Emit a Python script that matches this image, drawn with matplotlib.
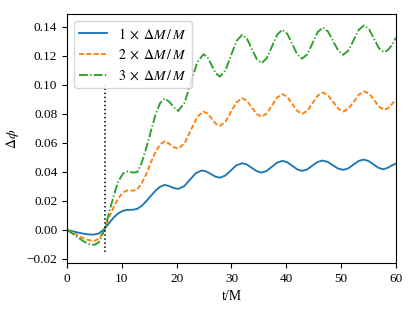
"""
phase difference vs time for three mass perturbations
"""

import matplotlib

matplotlib.use("Agg")
import matplotlib.pyplot as plt

t_1 = [0, 1, 2, 3, 4, 5, 5.8, 6.5, 7, 7.7, 8.5, 9.3, 10.2, 11.0, 12.0, 12.8, 13.6, 14.4,
       15.3, 16.2, 17.0, 17.8, 18.6, 19.5, 20.3, 21.4, 22.45, 23.5, 24.6, 25.4, 26.25,
       27.1, 27.9, 28.9, 29.9, 30.9, 31.95, 32.85, 33.7, 34.6, 35.5, 36.45, 37.4, 38.35,
       39.3, 40.2, 41.1, 42.0, 42.9, 43.8, 44.75, 45.7, 46.6, 47.55, 48.5, 49.45, 50.4,
       51.3, 52.25, 53.2, 54.1, 55.0, 55.9, 56.8, 57.7, 58.5, 59.3, 60]
dphi_1 = [0.0, -0.0009, -0.0018, -0.0026, -0.0031, -0.0032, -0.0024, -0.0005, 0.0015,
          0.0048, 0.0085, 0.0113, 0.0132, 0.0138, 0.0139, 0.0145, 0.0165, 0.0195, 0.0235,
          0.0272, 0.0298, 0.031, 0.0303, 0.0288, 0.0283, 0.0302, 0.0347, 0.0391, 0.041,
          0.0403, 0.0385, 0.0367, 0.036, 0.0375, 0.041, 0.0445, 0.046, 0.045, 0.0428,
          0.0405, 0.0395, 0.0407, 0.0436, 0.0464, 0.0476, 0.0466, 0.0442, 0.0417, 0.0407,
          0.0417, 0.0443, 0.0468, 0.0478, 0.0469, 0.0446, 0.0423, 0.0414, 0.0424, 0.045,
          0.0475, 0.0485, 0.0475, 0.0452, 0.0428, 0.0418, 0.0428, 0.0445, 0.0457]

t_2 = [0, 1, 2, 3, 4, 5, 5.8, 6.5, 7, 7.7, 8.5, 9.3, 10.2, 11.0, 12.0, 12.8, 13.6, 14.4,
       15.3, 16.2, 17.0, 17.8, 18.6, 19.5, 20.3, 21.45, 22.6, 23.75, 24.9, 25.65, 26.4,
       27.15, 27.9, 28.9, 29.9, 30.95, 31.95, 32.85, 33.7, 34.6, 35.5, 36.45, 37.4, 38.35,
       39.3, 40.2, 41.1, 42.0, 42.9, 43.85, 44.8, 45.75, 46.7, 47.6, 48.55, 49.5, 50.4,
       51.35, 52.35, 53.3, 54.3, 55.2, 56.1, 57.0, 57.9, 58.6, 59.3, 60]
dphi_2 = [0.0, -0.0018, -0.0038, -0.0058, -0.0071, -0.0076, -0.006, -0.002, 0.002, 0.009,
          0.0155, 0.0215, 0.0258, 0.0272, 0.0271, 0.0278, 0.032, 0.038, 0.0465, 0.054,
          0.059, 0.061, 0.0595, 0.057, 0.056, 0.0597, 0.0688, 0.0779, 0.0816, 0.0802,
          0.0767, 0.0731, 0.0717, 0.0745, 0.0813, 0.088, 0.0908, 0.0889, 0.0844, 0.0799,
          0.078, 0.0803, 0.0858, 0.0913, 0.0936, 0.0916, 0.0868, 0.082, 0.08, 0.0821,
          0.0874, 0.0926, 0.0947, 0.0928, 0.0882, 0.0835, 0.0816, 0.0836, 0.0885, 0.0934,
          0.0954, 0.0936, 0.0891, 0.0846, 0.0828, 0.084, 0.0868, 0.0898]

t_3 = [0, 1, 2, 3, 4, 5, 5.8, 6.5, 7, 7.7, 8.5, 9.3, 10.2, 11.0, 12.0, 12.8, 13.6, 14.4,
       15.3, 16.2, 17.0, 17.8, 18.6, 19.5, 20.3, 21.45, 22.6, 23.75, 24.9, 25.65, 26.4,
       27.15, 27.9, 28.9, 29.9, 30.95, 31.95, 32.85, 33.7, 34.6, 35.5, 36.45, 37.4, 38.35,
       39.3, 40.2, 41.1, 42.0, 42.9, 43.85, 44.8, 45.75, 46.7, 47.6, 48.55, 49.5, 50.4,
       51.35, 52.3, 53.25, 54.2, 55.1, 56.0, 56.9, 57.8, 58.5, 59.2, 60]
dphi_3 = [0.0, -0.0025, -0.0052, -0.0078, -0.0097, -0.0103, -0.0085, -0.003, 0.002,
          0.0125, 0.023, 0.033, 0.0388, 0.0403, 0.0395, 0.0398, 0.046, 0.0555, 0.068,
          0.08, 0.0875, 0.0905, 0.0885, 0.0845, 0.082, 0.0877, 0.1016, 0.1154, 0.1211,
          0.1188, 0.1134, 0.1079, 0.1057, 0.1099, 0.1201, 0.1303, 0.1345, 0.1316, 0.1248,
          0.1178, 0.115, 0.1184, 0.1265, 0.1346, 0.138, 0.1351, 0.128, 0.1209, 0.118,
          0.1211, 0.1288, 0.1364, 0.1395, 0.1368, 0.1301, 0.1234, 0.1207, 0.1237, 0.1309,
          0.138, 0.141, 0.1383, 0.1318, 0.1252, 0.1225, 0.1238, 0.127, 0.1325]

labels = [r"$1\;\times\;\Delta M\,/\,M$", r"$2\;\times\;\Delta M\,/\,M$",
          r"$3\;\times\;\Delta M\,/\,M$"]

t_mark = 7.0
mark_lo, mark_hi = -0.015, 0.10

plt.rcParams["font.family"] = ["Liberation Serif", "DejaVu Serif"]
plt.rcParams["mathtext.fontset"] = "stix"
plt.rcParams["font.size"] = 9.5

fig = plt.figure(figsize=(4.15, 3.11), dpi=100)
fig.subplots_adjust(left=0.1614, right=0.954, top=0.955, bottom=0.1543)
ax = fig.gca()

lw = 1.35
ax.plot(t_1, dphi_1, "-", color="#1f77b4", lw=lw, label=labels[0])
ax.plot(t_2, dphi_2, color="#ff7f0e", lw=lw, dashes=(2.7, 1.2), label=labels[1])
ax.plot(t_3, dphi_3, color="#2ca02c", lw=lw, dashes=(4.7, 1.2, 0.75, 1.2),
        label=labels[2])
ax.plot([t_mark, t_mark], [mark_lo, mark_hi], "k:", lw=1.1)

ax.set_xlim(0, 60)
ax.set_yticks([-0.02, 0.0, 0.02, 0.04, 0.06, 0.08, 0.10, 0.12, 0.14])
ax.set_xlabel("t/M", fontsize=10)
ax.set_ylabel(r"$\Delta\phi$", fontsize=10)
ax.legend(loc="upper left", fontsize=10)

fig.savefig("out.png")
